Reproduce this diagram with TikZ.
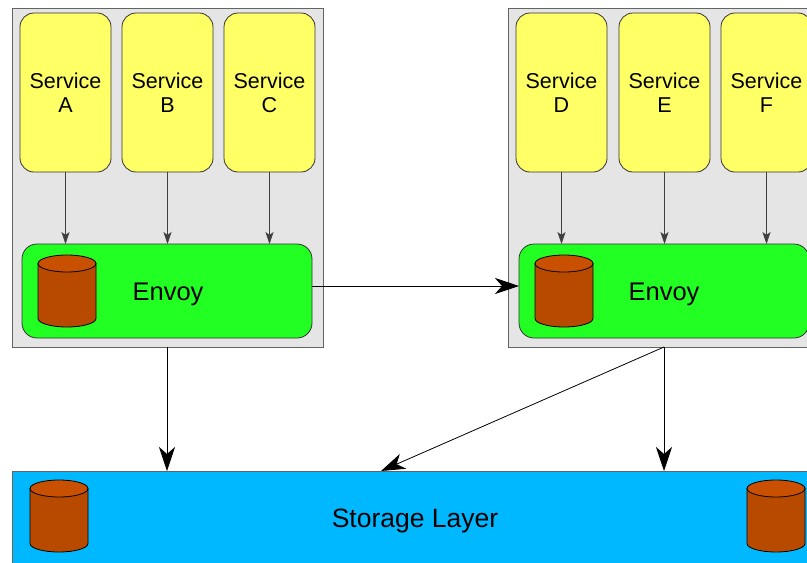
\documentclass[tikz,border=0pt]{standalone}
\usepackage{fontspec}
\setmainfont{Liberation Sans}
\usetikzlibrary{arrows.meta,calc}
\definecolor{boxgray}{RGB}{229,229,229}
\definecolor{boxedge}{RGB}{100,100,100}
\definecolor{svcyellow}{RGB}{255,255,102}
\definecolor{envgreen}{RGB}{34,255,34}
\definecolor{drumbody}{RGB}{184,74,0}
\definecolor{drumtop}{RGB}{200,80,0}
\definecolor{storeblue}{RGB}{0,184,255}
\tikzset{
  x=1pt,y=1pt,
  container/.style={draw=boxedge,fill=boxgray,line width=1pt,inner sep=0pt,outer sep=0pt,
    minimum width=311pt,minimum height=339pt},
  svc/.style={draw=black!80,fill=svcyellow,line width=0.8pt,rounded corners=14pt,inner sep=0pt,outer sep=0pt,
    minimum width=91pt,minimum height=159pt,align=center,font=\fontsize{21.5}{24}\selectfont},
  envoy/.style={draw=black!80,fill=envgreen,line width=0.8pt,rounded corners=15pt,inner sep=0pt,outer sep=0pt,
    minimum width=290pt,minimum height=94pt,font=\fontsize{25.5}{28}\selectfont,text height=18pt,text depth=0pt},
  storage/.style={draw=boxedge,fill=storeblue,line width=1pt,inner sep=0pt,outer sep=0pt,
    minimum width=811pt,minimum height=110pt,font=\fontsize{26.5}{28}\selectfont,text height=18pt,text depth=16pt},
  small/.style={draw=black!75,line width=0.8pt,-{Stealth[length=12pt,width=8pt,inset=3pt]}},
  big/.style={draw=black,line width=0.8pt,-{Stealth[length=24pt,width=16pt,inset=7pt]}},
  drum/.pic={
    \path[draw=black,line width=0.8pt,fill=drumbody]
      (-29,27.5) -- (-29,-27.5) arc[start angle=180,end angle=360,x radius=29,y radius=8.5]
      -- (29,27.5) -- cycle;
    \path[draw=black,line width=0.8pt,fill=drumtop] (0,27.5) ellipse[x radius=29,y radius=8.5];
  }
}
\begin{document}
\begin{tikzpicture}
\useasboundingbox (0,0) rectangle (807,-563);
\fill[white] (0,0) rectangle (807,-563);

% left group
\node[container] (lbox) at (167.5,-177.5) {};
\node[svc] (sa) at (65.5,-92.5) {Service\\A};
\node[svc] (sb) at (167.5,-92.5) {Service\\B};
\node[svc] (sc) at (269.5,-92.5) {Service\\C};
\node[envoy] (lenv) at (167,-291) {\hspace*{2pt}Envoy};
\pic at (67,-291) {drum};

% right group
\node[container] (rbox) at (663.5,-177.5) {};
\node[svc] (sd) at (561.5,-92.5) {Service\\D};
\node[svc] (se) at (664.5,-92.5) {Service\\E};
\node[svc] (sf) at (766.5,-92.5) {Service\\F};
\node[envoy] (renv) at (664,-291) {Envoy};
\pic at (564,-291) {drum};

% storage
\node[storage,anchor=north] (store) at (417.5,-471) {\hspace*{-5pt}Storage Layer};
\pic at (59,-516) {drum};
\pic at (776,-516) {drum};
\coordinate (diagend) at (381,-471);

% connectors
\foreach \s in {sa,sb,sc} \draw[small] (\s.south) -- (\s.south |- lenv.north);
\foreach \s in {sd,se,sf} \draw[small] (\s.south) -- (\s.south |- renv.north);
\draw[big] ([yshift=5pt]lenv.east) -- ([yshift=5pt]renv.west);
\draw[big] (lbox.south -| lenv.north) -- (lenv.north |- store.north);
\draw[big] (rbox.south -| renv.north) -- (renv.north |- store.north);
\draw[big] (rbox.south -| renv.north) -- (diagend);
\end{tikzpicture}
\end{document}
